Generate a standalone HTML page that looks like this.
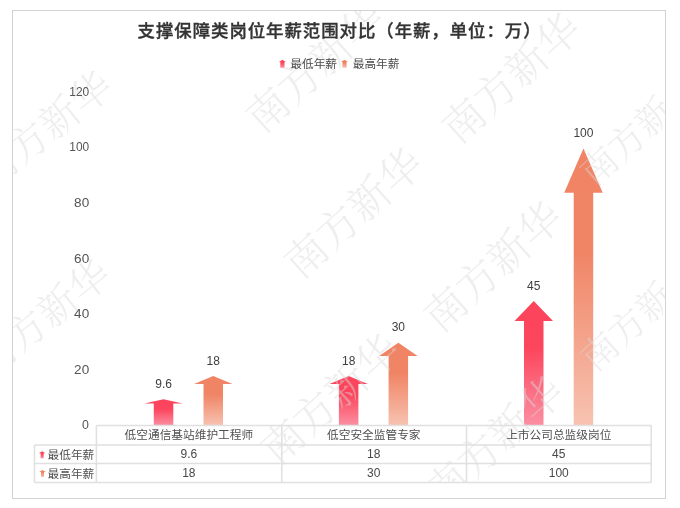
<!DOCTYPE html>
<html lang="zh-CN"><head><meta charset="utf-8"><title>支撑保障类岗位年薪范围对比</title>
<style>
html,body{margin:0;padding:0;background:#fff;}
body{width:680px;height:508px;overflow:hidden;}
svg{display:block;}
text{font-family:"Liberation Sans","Noto Sans CJK SC",sans-serif;}
.title{font-size:17.4px;letter-spacing:0.97px;font-weight:500;fill:#333;stroke:#333;stroke-width:0.35px;font-family:"Liberation Sans","Noto Sans CJK SC",sans-serif;}
.leg{font-size:11.7px;fill:#4a4a4a;}
.ax{font-size:12.2px;fill:#555;}
.dl{font-size:12px;fill:#404040;}
.cat{font-size:11.7px;fill:#505050;}
.tv{font-size:12px;fill:#484848;}
.wm{font-family:"Liberation Serif","Noto Serif CJK SC",serif;font-size:42px;letter-spacing:0.3px;fill:rgba(218,218,218,0.45);font-weight:300;}
</style></head><body>
<svg width="680" height="508" viewBox="0 0 680 508">
<defs>
<linearGradient id="gr" x1="0" y1="0" x2="0" y2="1"><stop offset="0" stop-color="#fc445c"/><stop offset="0.38" stop-color="#fc465d"/><stop offset="1" stop-color="#fb8fa2"/></linearGradient>
<linearGradient id="go" x1="0" y1="0" x2="0" y2="1"><stop offset="0" stop-color="#f08465"/><stop offset="0.38" stop-color="#f08566"/><stop offset="1" stop-color="#f7c3b2"/></linearGradient>
<clipPath id="fc"><rect x="13" y="11" width="652" height="471.5"/></clipPath>
</defs>
<rect x="0" y="0" width="680" height="508" fill="#fff"/>
<rect x="12.5" y="10.5" width="653" height="488" fill="#fff" stroke="#d2d2d2" stroke-width="1"/>
<polygon points="163.55,399.36 182.80,403.54 173.30,403.54 173.30,425.50 153.80,425.50 153.80,403.54 144.30,403.54" fill="url(#gr)"/>
<polygon points="213.25,376.05 232.50,383.96 223.00,383.96 223.00,425.50 203.50,425.50 203.50,383.96 194.00,383.96" fill="url(#go)"/>
<polygon points="348.65,376.05 367.90,383.96 358.40,383.96 358.40,425.50 338.90,425.50 338.90,383.96 329.40,383.96" fill="url(#gr)"/>
<polygon points="398.35,342.75 417.60,355.99 408.10,355.99 408.10,425.50 388.60,425.50 388.60,355.99 379.10,355.99" fill="url(#go)"/>
<polygon points="533.75,301.12 553.00,321.02 543.50,321.02 543.50,425.50 524.00,425.50 524.00,321.02 514.50,321.02" fill="url(#gr)"/>
<polygon points="583.45,148.50 602.70,192.82 593.20,192.82 593.20,425.50 573.70,425.50 573.70,192.82 564.20,192.82" fill="url(#go)"/>
<g clip-path="url(#fc)">
<text transform="translate(43.5,129.5) rotate(-38.5) scale(0.95)" x="-84.4" y="15.7" class="wm">南方新华</text>
<text transform="translate(41.7,317.6) rotate(-38.5) scale(0.95)" x="-84.4" y="15.7" class="wm">南方新华</text>
<text transform="translate(314.6,66.8) rotate(-42) scale(1)" x="-84.4" y="15.7" class="wm">南方新华</text>
<text transform="translate(353,212.5) rotate(-42) scale(1)" x="-84.4" y="15.7" class="wm">南方新华</text>
<text transform="translate(330,398.5) rotate(-42) scale(1)" x="-84.4" y="15.7" class="wm">南方新华</text>
<text transform="translate(492.5,266) rotate(-42) scale(1)" x="-84.4" y="15.7" class="wm">南方新华</text>
<text transform="translate(510.6,77.5) rotate(-42) scale(1)" x="-84.4" y="15.7" class="wm">南方新华</text>
<text transform="translate(639.8,128.5) rotate(-42) scale(0.87)" x="-84.4" y="15.7" class="wm">南方新华</text>
<text transform="translate(494,441) rotate(-42) scale(1)" x="-84.4" y="15.7" class="wm">南方新华</text>
<text transform="translate(640.4,314) rotate(-42) scale(0.87)" x="-84.4" y="15.7" class="wm">南方新华</text>
</g>
<text x="137.6" y="37" class="title">支撑保障类岗位年薪范围对比（年薪，单位：万）</text>
<polygon points="282.40,59.70 285.90,61.89 284.50,61.89 284.50,67.80 280.30,67.80 280.30,61.89 278.90,61.89" fill="url(#gr)"/>
<text x="290.3" y="68.3" class="leg">最低年薪</text>
<polygon points="344.50,59.70 348.00,61.89 346.60,61.89 346.60,67.80 342.40,67.80 342.40,61.89 341.00,61.89" fill="url(#go)"/>
<text x="352.7" y="68.3" class="leg">最高年薪</text>
<text x="81.9" y="429" textLength="6.9" lengthAdjust="spacingAndGlyphs" class="ax">0</text>
<text x="74.1" y="374" textLength="15.1" lengthAdjust="spacingAndGlyphs" class="ax">20</text>
<text x="74.1" y="318" textLength="15.1" lengthAdjust="spacingAndGlyphs" class="ax">40</text>
<text x="74.1" y="263" textLength="15.1" lengthAdjust="spacingAndGlyphs" class="ax">60</text>
<text x="74.1" y="207" textLength="15.1" lengthAdjust="spacingAndGlyphs" class="ax">80</text>
<text x="69.3" y="151" textLength="19.9" lengthAdjust="spacingAndGlyphs" class="ax">100</text>
<text x="69.3" y="96" textLength="19.9" lengthAdjust="spacingAndGlyphs" class="ax">120</text>
<text x="163.55" y="388.26" text-anchor="middle" class="dl">9.6</text>
<text x="213.25" y="364.87" text-anchor="middle" class="dl">18</text>
<text x="348.65" y="364.87" text-anchor="middle" class="dl">18</text>
<text x="398.35" y="331.45" text-anchor="middle" class="dl">30</text>
<text x="533.75" y="289.68" text-anchor="middle" class="dl">45</text>
<text x="583.45" y="136.50" text-anchor="middle" class="dl">100</text>
<path d="M96.4,425.5H651.2M34.5,445H651.2M34.5,463.5H651.2M34.5,482.5H651.2M34.5,445V482.5M96.4,425.5V482.5M281.8,425.5V482.5M466.5,425.5V482.5M651.2,425.5V482.5" fill="none" stroke="#e0e0e0" stroke-width="1.5"/>
<text x="188.87" y="439" text-anchor="middle" class="cat">低空通信基站维护工程师</text>
<text x="188.87" y="458" text-anchor="middle" class="tv">9.6</text>
<text x="188.87" y="477" text-anchor="middle" class="tv">18</text>
<text x="373.80" y="439" text-anchor="middle" class="cat">低空安全监管专家</text>
<text x="373.80" y="458" text-anchor="middle" class="tv">18</text>
<text x="373.80" y="477" text-anchor="middle" class="tv">30</text>
<text x="558.73" y="439" text-anchor="middle" class="cat">上市公司总监级岗位</text>
<text x="558.73" y="458" text-anchor="middle" class="tv">45</text>
<text x="558.73" y="477" text-anchor="middle" class="tv">100</text>
<polygon points="42.15,451.20 45.40,453.30 43.68,453.30 43.68,458.20 40.62,458.20 40.62,453.30 38.90,453.30" fill="url(#gr)"/>
<text x="47.5" y="459" class="cat">最低年薪</text>
<polygon points="42.55,469.90 45.80,472.00 44.08,472.00 44.08,476.90 41.02,476.90 41.02,472.00 39.30,472.00" fill="url(#go)"/>
<text x="47.5" y="477.5" class="cat">最高年薪</text>
</svg>
</body></html>
